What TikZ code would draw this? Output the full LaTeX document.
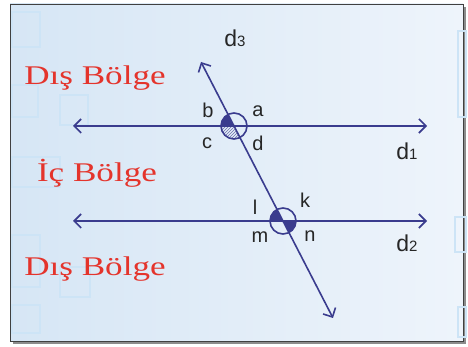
\documentclass[tikz,border=0pt]{standalone}
\usepackage{xcolor}
\usepackage{fontspec}
\setmainfont{Liberation Serif}
\setsansfont{Liberation Sans}
\newfontfamily\bolgefont[FakeStretch=1.3]{Liberation Serif}
\usepackage{tikz}
\usetikzlibrary{arrows.meta, positioning}
\definecolor{lineblue}{RGB}{58,60,142}
\definecolor{regionred}{RGB}{228,52,44}
\definecolor{bgleft}{RGB}{214,230,245}
\definecolor{bgright}{RGB}{238,244,251}
\definecolor{squareblue}{RGB}{205,228,246}
\newcommand{\linename}[1]{d{\fontsize{15}{15}\selectfont #1}}

\begin{document}
\begin{tikzpicture}[x=1pt, y=1pt,
    region/.style={text=regionred, font=\bolgefont\fontsize{27}{27}\selectfont, anchor=base},
    anglabel/.style={text=black!85, font=\sffamily\fontsize{20}{20}\selectfont},
    linelabel/.style={text=black!85, font=\sffamily\fontsize{23}{23}\selectfont},
    line/.style={draw=lineblue, line width=1.6pt, {Straight Barb[length=7pt,width=14pt]}-{Straight Barb[length=7pt,width=14pt]}},
    ring/.style={draw=lineblue, line width=1.6pt},
    deco/.style={draw=squareblue, line width=1.2pt}
  ]
    \useasboundingbox (0,0) rectangle (468,347);

    % Frame
    \fill[black!45] (13,3) rectangle (466,340);
    \shade[left color=bgleft, right color=bgright, draw=black!75, line width=0.6pt] (10,6) rectangle (463,343);
    \draw[deco] (12,300) rectangle (40,335);
    \draw[deco] (12,230) rectangle (38,262);
    \draw[deco] (60,222) rectangle (88,252);
    \draw[deco] (12,160) rectangle (60,190);
    \draw[deco] (12,60) rectangle (40,112);
    \draw[deco] (60,50) rectangle (90,80);
    \draw[deco] (12,14) rectangle (40,42);
    \draw[deco] (466,316) rectangle (458,230);
    \draw[deco] (455,130) rectangle (466,95);
    \draw[deco] (458,40) rectangle (466,10);

    % Points
    \coordinate (p1) at (234,221);
    \coordinate (p2) at (283,126);
    \coordinate (d1left) at (73,221);
    \coordinate (d1right) at (427,221);
    \coordinate (d2left) at (73,126);
    \coordinate (d2right) at (427,126);
    \coordinate (d3top) at (201,285);
    \coordinate (d3bottom) at (333,29);

    % Angle marks
    \fill[lineblue] (p1) -- ++(117.3:13) arc[start angle=117.3, end angle=180, radius=13] -- cycle;
    \begin{scope}
      \clip (p1) -- ++(180:13) arc[start angle=180, end angle=297.3, radius=13] -- cycle;
      \foreach \s in {-26,-23,...,26}
        \draw[lineblue!75, line width=0.7pt, shift={(p1)}] (\s-14,-14) -- ++(28,28);
    \end{scope}
    \fill[lineblue] (p2) -- ++(117.3:13) arc[start angle=117.3, end angle=180, radius=13] -- cycle;
    \fill[lineblue] (p2) -- ++(297.3:13) arc[start angle=297.3, end angle=360, radius=13] -- cycle;
    \draw[ring] (p1) circle[radius=13];
    \draw[ring] (p2) circle[radius=13];

    % Lines
    \draw[line] (d1left) -- (d1right);
    \draw[line] (d2left) -- (d2right);
    \draw[line] (d3top) -- (d3bottom);

    % Labels
    \node (d3) [linelabel] at (235,309) {\linename{3}};
    \node (d1) [linelabel] at (407,196) {\linename{1}};
    \node (d2) [linelabel] at (407,104) {\linename{2}};
    \node (a) [anglabel] at (258,236) {a};
    \node (b) [anglabel] at (208,237) {b};
    \node (c) [anglabel] at (207,204) {c};
    \node (d) [anglabel] at (258,204) {d};
    \node (l) [anglabel] at (255,140) {l};
    \node (k) [anglabel] at (305,147) {k};
    \node (m) [anglabel] at (260,110) {m};
    \node (n) [anglabel] at (310,111) {n};

    % Regions
    \node (outertop) [region] at (95,262) {Dış Bölge};
    \node (inner) [region] at (97,165) {İç Bölge};
    \node (outerbottom) [region] at (95,71) {Dış Bölge};

  \end{tikzpicture}
\end{document}
